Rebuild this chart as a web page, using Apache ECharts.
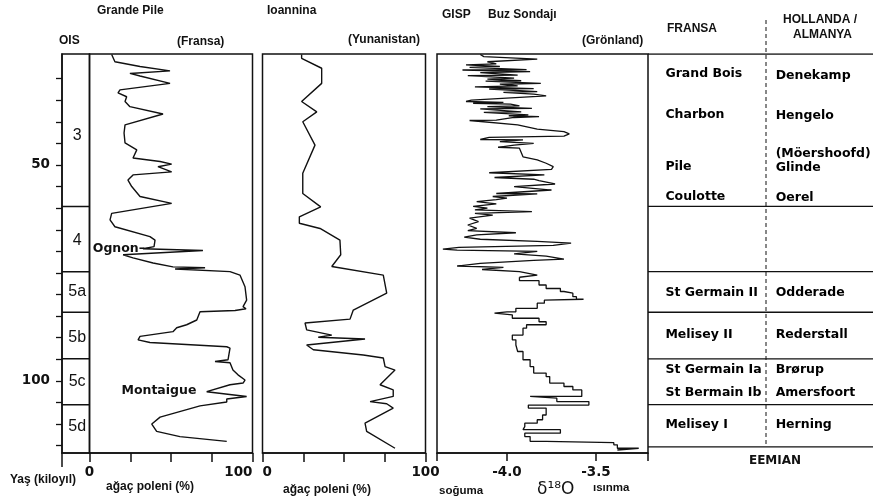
<!DOCTYPE html>
<html><head><meta charset="utf-8">
<script src="https://cdn.jsdelivr.net/npm/echarts@6/dist/echarts.min.js"></script>
<style>html,body{margin:0;padding:0;background:#fff}#c{width:873px;height:504px}</style>
</head><body><div id="c"></div>
<script>
// ---------- data ----------
const ageMin = 24.3, ageMax = 116.7;
const ageTicks = [30,35,40,45,50,55,60,65,70,75,80,85,90,95,100,105,110,115];
const ageLabels = [50,100];
const oisNames = ['3','4','5a','5b','5c','5d'];
const oisMid = [43.1,67.6,79.4,90.0,100.2,110.6];
const stageBounds = [59.6,74.7,84.1,94.9,105.5];
const tableBottomAge = 115.3;

const pollenTicks = [0,25,50,75,100];
const pollenLabels = [0,100];
const d18oMin = -4.393, d18oMax = -3.208;
const d18oTicks = [-4.0,-3.5];

// Grande Pile tree pollen (%)
const gpAge = [24.4,26.1,27.2,28.2,28.8,29.4,31.1,32.6,33.3,34.2,35.3,36.5,38.2,40.7,42.6,44.9,46.5,48.4,49.2,49.8,50.4,51.6,52.3,53.5,55.0,57.3,58.9,61.2,62.7,64.3,66.6,67.4,68.9,69.4,69.8,70.8,71.5,72.7,73.6,73.8,74.1,74.7,75.5,78.2,81.3,82.8,83.3,83.7,84.0,85.9,87.0,87.7,88.6,89.7,90.5,91.1,92.1,92.4,95.1,95.5,95.8,97.5,98.6,99.8,100.5,100.9,102.5,103.6,104.2,104.9,105.8,108.4,110.0,111.7,112.9,114.0];
const gpPct = [13.6,15.6,31.0,49.4,24.8,31.0,49.4,18.7,17.5,22.8,21.8,24.8,45.1,21.8,21.2,21.8,29.0,26.7,43.3,50.4,42.0,50.4,26.7,23.6,25.9,31.0,50.4,13.6,12.6,15.6,37.1,40.2,39.6,32.8,69.6,20.6,26.7,39.0,51.2,70.9,52.5,86.2,92.3,95.4,96.4,94.2,96.0,89.3,67.8,65.8,59.6,53.5,51.2,31.0,29.8,37.1,84.2,86.2,85.0,77.0,86.2,88.0,91.1,95.4,94.2,86.2,71.9,96.4,84.2,84.2,67.8,43.3,38.2,41.2,55.5,84.2];

// Ioannina tree pollen (%)
const ioAge = [24.4,25.3,27.6,31.1,35.3,37.7,40.0,45.4,51.9,56.6,59.7,62.0,63.5,64.7,67.4,70.8,73.5,75.5,79.7,83.6,85.7,86.6,88.2,89.4,89.9,90.3,91.7,92.8,94.0,94.7,96.7,97.5,100.9,102.1,103.6,104.8,105.3,106.3,109.8,111.7,115.6];
const ioPct = [24.0,24.0,36.3,36.3,24.0,33.3,24.7,32.2,24.7,24.7,35.7,22.6,22.6,35.3,47.5,48.0,42.5,74.1,76.2,55.7,53.7,26.1,27.1,42.5,34.2,62.9,27.1,31.2,61.8,74.1,75.2,81.3,72.1,80.2,80.2,66.0,76.2,80.2,62.9,63.9,81.3];

// GISP delta 18O (per mil)
const gispAge = [
  24.4,24.9,25.5,26.1,26.6,26.8,27.2,27.4,27.9,28.0,
  28.4,28.6,29.2,29.3,29.9,30.1,30.5,30.6,31.1,31.3,
  31.7,31.9,32.3,32.4,33.0,33.2,33.6,34.0,35.0,35.3,
  35.5,35.7,35.9,36.3,36.5,36.9,37.0,37.7,37.8,38.4,
  38.6,38.8,39.0,39.6,39.7,40.7,41.7,42.3,42.8,43.3,
  43.6,44.1,44.2,44.6,45.0,45.4,45.9,46.1,46.5,48.1,
  48.8,
  49.6,50.4,51.0,51.8,52.3,52.9,53.3,53.6,54.4,55.0,
  55.8,56.6,56.7,57.3,57.7,58.0,58.5,59.0,59.6,60.0,
  60.4,60.8,61.2,61.6,62.3,63.1,63.9,64.7,65.2,65.7,
  66.2,66.7,67.2,67.7,68.1,68.6,69.1,69.5,69.7,70.0,
  70.6,71.1,71.8,72.1,72.8,73.4,73.7,74.2,74.7,75.5,
  76.0,
  76.8,77.8,78.6,79.3,79.7,80.5,81.1,81.3,82.0,83.2,
  84.0,84.3,84.7,85.5,86.3,87.0,87.8,89.4,90.5,91.7,
  93.2,95.1,96.7,98.2,99.0,100.5,101.3,102.1,102.9,103.6,
  104.0,104.8,105.6,106.3,107.9,109.0,109.8,110.6,111.3,112.1,
  112.9,114.0,114.3,114.8,115.6,116.0];
const gispD18O = [
  -4.15,-4.13,-3.83,-4.11,-4.06,-4.23,-4.04,-4.21,-3.89,-4.25,
  -3.87,-4.15,-3.94,-4.22,-3.96,-4.11,-3.92,-4.12,-3.81,-4.04,
  -3.94,-4.18,-3.85,-4.10,-3.83,-4.02,-3.85,-3.78,-4.20,-4.23,
  -4.02,-4.19,-3.98,-3.93,-4.11,-3.86,-4.15,-3.92,-4.13,-3.88,
  -3.99,-3.82,-3.96,-4.06,-4.21,-3.94,-3.83,-3.68,-3.65,-3.68,
  -4.10,-4.15,-3.91,-4.04,-3.85,-3.96,-4.05,-3.93,-3.94,-3.91,
  -3.83,
  -3.78,-3.74,-3.75,-4.10,-3.79,-4.07,-3.85,-3.82,-3.73,-3.96,
  -3.75,-4.06,-3.83,-4.08,-4.00,-4.06,-4.17,-4.06,-4.19,-4.11,
  -4.18,-3.86,-4.18,-4.08,-4.21,-4.16,-4.22,-4.17,-4.22,-3.95,
  -4.17,-4.24,-4.15,-3.83,-3.64,-3.74,-4.27,-4.36,-4.28,-3.83,
  -3.96,-3.78,-3.68,-3.85,-4.15,-4.28,-4.02,-4.14,-3.93,-3.83,
  -3.93,
  -3.82,-3.78,-3.70,-3.68,-3.63,-3.61,-3.57,-3.79,-3.83,-3.95,
  -4.00,-4.07,-3.97,-3.82,-3.78,-3.89,-3.91,-3.97,-3.95,-3.94,
  -3.91,-3.87,-3.85,-3.78,-3.76,-3.68,-3.63,-3.58,-3.58,-3.87,
  -3.72,-3.54,-3.88,-3.78,-3.80,-3.83,-3.90,-3.91,-3.70,-3.90,
  -3.87,-3.78,-3.40,-3.38,-3.26,-3.38];
const gispStepFrom = 76.0; // older part drawn as a stepped record

// annotations in Grande Pile panel
const gpNotes = ['Ognon–','Montaigue'];
const gpNoteAge = [69.5,102.3];
const gpNotePct = [2.0,42.6];
const gpNoteAlign = ['left','center'];

// correlation table
const frNames = ['Grand Bois','Charbon','Pile','Coulotte','St Germain II','Melisey II','St Germain Ia','St Bermain Ib','Melisey I'];
const frAges = [28.8,38.4,50.5,57.3,79.5,89.4,97.5,102.7,110.2];
const nlNames = ['Denekamp','Hengelo','(Möershoofd)','Glinde','Oerel','Odderade','Rederstall','Brørup','Amersfoort','Herning'];
const nlAges = [29.3,38.7,47.3,50.6,57.5,79.5,89.4,97.5,102.7,110.2];

// ---------- chart ----------
const ARIAL = '"Liberation Sans", Arial, sans-serif';
const DJ = '"DejaVu Sans", sans-serif';
const INK = '#111';
const TOP = 54, H = 399;
const HIDDEN_ITEM = {color:'rgba(0,0,0,0)', opacity:1};

const grids = [
  {left:62, top:TOP, width:27.5, height:H, show:true, borderColor:INK, borderWidth:1.5, backgroundColor:'transparent'},
  {left:89.5, top:TOP, width:163, height:H, show:true, borderColor:INK, borderWidth:1.5, backgroundColor:'transparent'},
  {left:262.5, top:TOP, width:163, height:H, show:true, borderColor:INK, borderWidth:1.5, backgroundColor:'transparent'},
  {left:437, top:TOP, width:211, height:H, show:true, borderColor:INK, borderWidth:1.5, backgroundColor:'transparent'},
  {left:648, top:TOP, width:225, height:H, show:false}
];

const tickLabelStyle = {color:INK, fontFamily:DJ, fontWeight:'bold', fontSize:13.5};

function hiddenY(i){
  return {type:'value', gridIndex:i, inverse:true, min:ageMin, max:ageMax, show:false};
}
const yAxes = [
  {type:'value', gridIndex:0, inverse:true, min:ageMin, max:ageMax, position:'left',
   axisLine:{show:true, lineStyle:{color:INK, width:1.5}},
   axisTick:{show:true, inside:false, length:6, customValues:ageTicks, lineStyle:{color:INK, width:1.3}},
   axisLabel:{show:true, customValues:ageLabels, margin:12, ...tickLabelStyle},
   splitLine:{show:false}},
  hiddenY(1), hiddenY(2), hiddenY(3), hiddenY(4)
];

const xAxes = [
  {type:'value', gridIndex:0, min:0, max:1,
   axisLine:{show:true, lineStyle:{color:INK, width:1.5}},
   axisTick:{show:true, length:14, customValues:[0], lineStyle:{color:INK, width:1.5}},
   axisLabel:{show:false}, splitLine:{show:false}},
  {type:'value', gridIndex:1, min:0, max:100,
   axisLine:{show:true, lineStyle:{color:INK, width:1.5}},
   axisTick:{show:true, length:9, customValues:pollenTicks, lineStyle:{color:INK, width:1.5}},
   axisLabel:{show:true, customValues:pollenLabels, margin:12, alignMaxLabel:'right', ...tickLabelStyle},
   splitLine:{show:false}},
  {type:'value', gridIndex:2, min:0, max:100,
   axisLine:{show:true, lineStyle:{color:INK, width:1.5}},
   axisTick:{show:true, length:9, customValues:pollenTicks, lineStyle:{color:INK, width:1.5}},
   axisLabel:{show:true, customValues:pollenLabels, margin:12, alignMinLabel:'left', ...tickLabelStyle},
   splitLine:{show:false}},
  {type:'value', gridIndex:3, min:d18oMin, max:d18oMax,
   axisLine:{show:true, lineStyle:{color:INK, width:1.5}},
   axisTick:{show:true, length:8, customValues:[d18oMin].concat(d18oTicks, [d18oMax]), lineStyle:{color:INK, width:1.5}},
   axisLabel:{show:true, customValues:d18oTicks, margin:12, formatter:v=>v.toFixed(1), ...tickLabelStyle},
   splitLine:{show:false}},
  {type:'value', gridIndex:4, min:0, max:1, show:false}
];

const series = [];
// OIS stage boundaries
stageBounds.forEach(a=>{
  series.push({type:'line', xAxisIndex:0, yAxisIndex:0, data:[[0,a],[1,a]], symbol:'none', silent:true,
    lineStyle:{color:INK, width:1.5}});
});
// OIS labels
series.push({type:'scatter', xAxisIndex:0, yAxisIndex:0, symbolSize:1, silent:true,
  itemStyle:HIDDEN_ITEM,
  data: oisNames.map((n,i)=>({name:n, value:[0.55, oisMid[i]]})),
  label:{show:true, position:'inside', formatter:'{b}', color:INK, fontFamily:ARIAL, fontSize:16, opacity:1}});

// Grande Pile
series.push({type:'line', xAxisIndex:1, yAxisIndex:1, symbol:'none', silent:true,
  data: gpAge.map((a,i)=>[gpPct[i], a]), lineStyle:{color:INK, width:1.4}});
series.push({type:'scatter', xAxisIndex:1, yAxisIndex:1, symbolSize:1, silent:true,
  itemStyle:HIDDEN_ITEM,
  data: gpNotes.map((n,i)=>({name:n, value:[gpNotePct[i], gpNoteAge[i]], label:{align:gpNoteAlign[i]}})),
  label:{show:true, position:'inside', formatter:'{b}', color:INK, fontFamily:DJ, fontWeight:'bold', fontSize:12.5, opacity:1}});
// Ioannina
series.push({type:'line', xAxisIndex:2, yAxisIndex:2, symbol:'none', silent:true,
  data: ioAge.map((a,i)=>[ioPct[i], a]), lineStyle:{color:INK, width:1.4}});
// GISP
const gispPts = gispAge.map((a,i)=>[gispD18O[i], a]);
series.push({type:'line', xAxisIndex:3, yAxisIndex:3, symbol:'none', silent:true,
  data: gispPts.filter(p=>p[1] <= gispStepFrom), lineStyle:{color:INK, width:1.3}});
series.push({type:'line', xAxisIndex:3, yAxisIndex:3, symbol:'none', silent:true, step:'start',
  data: gispPts.filter(p=>p[1] >= gispStepFrom), lineStyle:{color:INK, width:1.3}});

// table lines
[ageMin].concat(stageBounds, [tableBottomAge]).forEach(a=>{
  series.push({type:'line', xAxisIndex:4, yAxisIndex:4, data:[[0,a],[1,a]], symbol:'none', silent:true,
    lineStyle:{color:INK, width:1.3}});
});
const tableLabel = {show:true, position:'right', distance:0, formatter:'{b}', color:'#000',
  fontFamily:DJ, fontWeight:'bold', fontSize:12.5, opacity:1};
series.push({type:'scatter', xAxisIndex:4, yAxisIndex:4, symbolSize:1, silent:true,
  itemStyle:HIDDEN_ITEM,
  data: frNames.map((n,i)=>({name:n, value:[0.075, frAges[i]]})), label:tableLabel});
series.push({type:'scatter', xAxisIndex:4, yAxisIndex:4, symbolSize:1, silent:true,
  itemStyle:HIDDEN_ITEM,
  data: nlNames.map((n,i)=>({name:n, value:[0.565, nlAges[i]]})), label:tableLabel});

function txt(text, x, y, font, align){
  return {type:'text', silent:true, style:{text:text, x:x, y:y, font:font, fill:INK,
    textAlign:align||'left', align:align||'left', textVerticalAlign:'middle', verticalAlign:'middle'}};
}
const HB = 'bold 12px ' + ARIAL;
const graphic = [
  txt('Grande Pile', 97, 11, HB),
  txt('Ioannina', 267, 11, HB),
  txt('GISP', 442, 15, HB),
  txt('Buz Sondajı', 488, 15, HB),
  txt('OIS', 59, 41, HB),
  txt('(Fransa)', 177, 42, HB),
  txt('(Yunanistan)', 348, 40, HB),
  txt('(Grönland)', 582, 41, HB),
  txt('FRANSA', 667, 29, HB),
  txt('HOLLANDA /', 783, 20, HB),
  txt('ALMANYA', 793, 35, HB),
  txt('Yaş (kiloyıl)', 10, 480, HB),
  txt('ağaç poleni (%)', 106, 487, HB),
  txt('ağaç poleni (%)', 283, 490, HB),
  txt('soğuma', 439, 491, 'bold 11.5px ' + ARIAL),
  txt('δ¹⁸O', 537, 490, '17px ' + DJ),
  txt('ısınma', 593, 488, 'bold 11.5px ' + ARIAL),
  txt('EEMIAN', 775, 461, 'bold 12px ' + DJ, 'center'),
  {type:'line', silent:true, shape:{x1:766, y1:20, x2:766, y2:447},
   style:{stroke:INK, lineWidth:1, lineDash:[4,3]}}
];

const chart = echarts.init(document.getElementById('c'), null, {renderer:'canvas'});
chart.setOption({
  animation:false,
  backgroundColor:'#fff',
  grid:grids, xAxis:xAxes, yAxis:yAxes, series:series, graphic:graphic
});
</script>
</body></html>
